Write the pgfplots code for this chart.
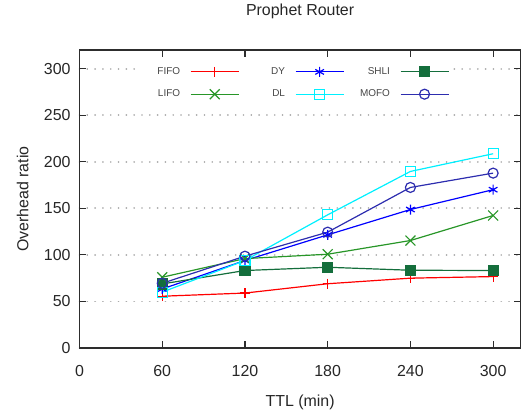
\documentclass[border=0pt]{standalone}
\usepackage{pgfplots}
\pgfplotsset{compat=1.18}
\usepackage{fontspec}
\setmainfont{Liberation Sans}

\definecolor{fifo}{RGB}{255,0,0}
\definecolor{lifo}{RGB}{40,150,40}
\definecolor{dy}{RGB}{0,0,255}
\definecolor{dl}{RGB}{0,240,255}
\definecolor{shli}{RGB}{20,110,60}
\definecolor{mofo}{RGB}{45,45,175}
\definecolor{axisgray}{RGB}{45,45,45}
\definecolor{legtext}{RGB}{70,70,70}
\definecolor{gridgray}{RGB}{170,170,170}

\newcommand{\legtxt}[1]{\textcolor{legtext}{#1}}

\begin{document}
\begin{tikzpicture}
\useasboundingbox (-79.5bp,-64bp) rectangle (443.5bp,348bp);
\begin{axis}[
  at={(0,0)}, anchor=south west,
  scale only axis, width=441.2bp, height=298bp,
  xmin=0, xmax=320, ymin=0, ymax=320,
  xtick={0,60,...,300}, ytick={0,50,...,300},
  tick align=inside, major tick length=7bp,
  tick style={axisgray, line width=1.2bp},
  axis line style={axisgray, line width=1.4bp},
  ymajorgrids,
  grid style={gridgray, line width=1.8bp, line cap=round, dash pattern=on 0.01bp off 7.8bp},
  font=\fontsize{16}{19}\selectfont,
  /pgf/number format/assume math mode=true,
  tick label style={font=\fontsize{16}{19}\selectfont, text=black!85, inner sep=0pt},
  xticklabel style={anchor=base, yshift=-28bp},
  yticklabel style={anchor=east, xshift=-8.8bp},
  title={Prophet Router},
  title style={at={(0.5,1)}, anchor=base, yshift=28.3bp, inner sep=0pt, text=black!85},
  xlabel={TTL (min)},
  xlabel style={at={(axis description cs:0.5,0)}, anchor=base, yshift=-58.7bp, inner sep=0pt, text=black!85},
  ylabel={Overhead ratio},
  ylabel style={at={(axis description cs:-0.129,0.5)}, anchor=center, inner sep=0pt, text=black!85},
  every axis plot/.append style={line width=1.2bp, mark size=5bp, mark options={solid}},
  legend columns=3,
  legend plot pos=right,
  legend image code/.code={
    \draw[mark repeat=2, mark phase=2] plot coordinates {(0bp,0bp) (24bp,0bp) (48bp,0bp)};
  },
  legend style={
    at={(0.137,0.944)}, anchor=north west,
    fill=white, draw=none, inner sep=0pt,
    font=\fontsize{10}{12}\selectfont,
    nodes={inner sep=0pt, text width=40bp, align=right, text height=7.5bp, text depth=2bp},
    /tikz/every odd column/.append style={column sep=10bp},
    /tikz/every even column/.append style={column sep=5.7bp},
    row sep=12.3bp,
  },
]
% FIFO
\addplot[fifo, mark=+] coordinates {(60,55.6) (120,59) (180,69) (240,75) (300,76.7)};
\addlegendentry{\legtxt{FIFO}}
% DY
\addplot[dy, mark=asterisk] coordinates {(60,63.4) (120,94) (180,121.5) (240,148.7) (300,170)};
\addlegendentry{\legtxt{DY}}
% SHLI
\addplot[shli, mark=square*] coordinates {(60,68.8) (120,83.2) (180,86.7) (240,83.5) (300,83.2)};
\addlegendentry{\legtxt{SHLI}}
% LIFO
\addplot[lifo, mark=x, mark size=7bp] coordinates {(60,76) (120,96) (180,100.7) (240,115.4) (300,142.3)};
\addlegendentry{\legtxt{LIFO}}
% DL
\addplot[dl, mark=square] coordinates {(60,60) (120,94) (180,143) (240,189.6) (300,208.6)};
\addlegendentry{\legtxt{DL}}
% MOFO
\addplot[mofo, mark=o] coordinates {(60,69.5) (120,98.6) (180,124.4) (240,172.4) (300,187.8)};
\addlegendentry{\legtxt{MOFO}}
\end{axis}
\end{tikzpicture}
\end{document}
